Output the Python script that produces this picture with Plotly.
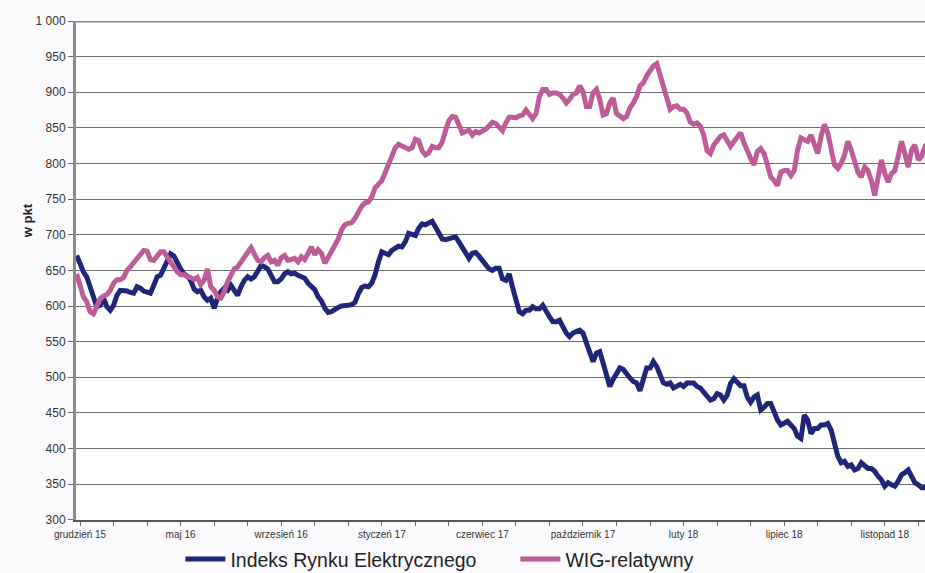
import plotly.graph_objects as go

# --- data (sampled every 3 sessions, first sample = session -3) ---
first_session = -3
sample_step = 3

indeks_rynku_elektrycznego = [
    671, 659, 648, 641, 627, 608, 599, 601, 611, 599, 594, 601, 615, 622, 622, 621, 619, 618,
    627, 625, 621, 619, 618, 629, 641, 643, 652, 662, 673, 670, 660, 652, 645, 642, 636, 624,
    620, 622, 613, 608, 611, 597, 611, 620, 625, 622, 629, 622, 615, 627, 636, 641, 638, 641,
    648, 657, 655, 652, 643, 634, 634, 638, 645, 648, 645, 646, 643, 640, 639, 632, 627, 623,
    613, 607, 597, 591, 592, 596, 598, 600, 600, 601, 602, 605, 617, 626, 628, 627, 632, 644,
    662, 676, 674, 672, 678, 681, 684, 683, 690, 702, 700, 699, 709, 715, 714, 716, 719, 711,
    702, 694, 693, 694, 695, 697, 690, 682, 672, 667, 674, 675, 670, 663, 659, 652, 650, 653,
    653, 638, 636, 645, 626, 606, 592, 589, 594, 594, 599, 596, 596, 601, 592, 585, 578, 578,
    580, 571, 562, 557, 562, 564, 566, 562, 548, 531, 522, 534, 536, 520, 501, 487, 497, 506,
    513, 511, 504, 499, 494, 492, 481, 497, 513, 513, 522, 515, 501, 492, 490, 492, 485, 487,
    490, 487, 492, 492, 492, 487, 485, 479, 472, 468, 470, 477, 475, 468, 475, 491, 498, 493,
    488, 488, 472, 465, 472, 475, 454, 458, 463, 463, 449, 440, 433, 435, 438, 433, 428, 417,
    414, 447, 440, 421, 428, 428, 433, 433, 435, 426, 408, 389, 380, 382, 375, 377, 370, 372,
    380, 377, 372, 372, 368, 361, 356, 347, 352, 349, 347, 354, 363, 366, 370, 361, 352, 349,
    345, 345, 352, 356,
]

wig_relatywny = [
    645, 627, 613, 606, 592, 589, 599, 610, 614, 616, 622, 632, 637, 637, 640, 650, 655, 661,
    666, 671, 678, 677, 665, 664, 671, 676, 676, 669, 660, 652, 648, 644, 644, 641, 640, 637,
    640, 630, 636, 652, 627, 622, 613, 611, 620, 634, 643, 652, 655, 662, 666, 675, 682, 673,
    664, 662, 668, 671, 662, 664, 657, 668, 671, 664, 665, 667, 662, 669, 665, 674, 683, 672,
    679, 674, 660, 668, 676, 683, 694, 707, 714, 716, 717, 723, 732, 740, 745, 746, 753, 766,
    771, 776, 787, 800, 813, 822, 827, 824, 821, 820, 822, 834, 832, 818, 812, 815, 824, 822,
    822, 830, 846, 860, 866, 865, 854, 843, 845, 847, 840, 845, 843, 845, 848, 853, 858, 856,
    850, 846, 857, 865, 865, 864, 867, 868, 875, 868, 863, 870, 894, 904, 904, 897, 899, 899,
    897, 892, 885, 890, 897, 899, 909, 901, 880, 880, 899, 904, 890, 868, 870, 885, 892, 870,
    866, 863, 866, 878, 885, 894, 909, 913, 923, 930, 937, 940, 925, 910, 890, 876, 880, 881,
    876, 876, 871, 858, 855, 857, 852, 840, 818, 814, 826, 833, 838, 840, 831, 824, 831, 836,
    843, 829, 817, 807, 798, 817, 821, 814, 798, 781, 776, 769, 788, 790, 790, 783, 790, 819,
    836, 833, 831, 840, 824, 814, 838, 855, 843, 824, 798, 793, 800, 812, 831, 819, 805, 788,
    781, 795, 790, 776, 755, 781, 805, 786, 774, 786, 790, 810, 831, 814, 795, 819, 826, 805,
    810, 824, 829, 836,
]

x_tick_labels = ["grudzień 15", "maj 16", "wrzesień 16", "styczeń 17", "czerwiec 17",
                 "październik 17", "luty 18", "lipiec 18", "listopad 18"]
y_tick_values = [300, 350, 400, 450, 500, 550, 600, 650, 700, 750, 800, 850, 900, 950, 1000]
y_tick_labels = ["300", "350", "400", "450", "500", "550", "600", "650", "700", "750",
                 "800", "850", "900", "950", "1 000"]

series_names = ["Indeks Rynku Elektrycznego", "WIG-relatywny"]

# sessions for each sample
sessions_blue = [first_session + sample_step * i for i in range(len(indeks_rynku_elektrycznego))]
sessions_pink = [first_session + sample_step * i for i in range(len(wig_relatywny))]

# tick positions: minor tick every 30 sessions, label every 90 sessions
tickvals = []
ticktext = []
for j in range(len(x_tick_labels) * 3):
    tickvals.append(30 * j)
    ticktext.append(x_tick_labels[j // 3] if j % 3 == 0 else "")

FONT = "Liberation Sans, Arial, sans-serif"
BLUE = "#1f2577"
PINK = "#bd5c98"

fig = go.Figure()
fig.add_trace(go.Scatter(x=sessions_blue, y=indeks_rynku_elektrycznego, mode="lines",
                         name=series_names[0], line=dict(color=BLUE, width=5)))
fig.add_trace(go.Scatter(x=sessions_pink, y=wig_relatywny, mode="lines",
                         name=series_names[1], line=dict(color=PINK, width=5)))

fig.update_layout(
    width=925, height=573,
    margin=dict(l=76, r=0, t=21, b=51),
    paper_bgcolor="#fbfbfd",
    plot_bgcolor="#ffffff",
    font=dict(family=FONT, color="#333333"),
    showlegend=True,
    legend=dict(orientation="h", xref="container", yref="container",
                x=0.195, xanchor="left", y=0.024, yanchor="middle",
                font=dict(size=19.5, color="#222222"), entrywidth=280, entrywidthmode="pixels",
                bgcolor="rgba(0,0,0,0)", itemwidth=40),
    xaxis=dict(range=[-3.6, 756], showgrid=False, zeroline=False,
               tickmode="array", tickvals=tickvals, ticktext=ticktext,
               ticks="outside", ticklen=4, tickcolor="#666666", tickwidth=1,
               tickfont=dict(size=10, color="#333333"),
               showline=True, linecolor="#555555", linewidth=2),
    yaxis=dict(range=[300, 1000], tickmode="array", tickvals=y_tick_values, ticktext=y_tick_labels,
               showgrid=True, gridcolor="#6e6e6e", gridwidth=1, zeroline=False,
               ticks="outside", ticklen=5, tickcolor="#666666",
               tickfont=dict(size=12, color="#333333"),
               showline=True, linecolor="#8a8a8a", linewidth=3, mirror=False),
    annotations=[dict(text="<b>w pkt</b>", x=-0.068, y=0.60, xref="paper", yref="paper",
                      textangle=-90, showarrow=False, font=dict(size=13, color="#222222"))],
    shapes=[dict(type="line", xref="paper", yref="y", x0=0, x1=1, y0=1000, y1=1000,
                 line=dict(color="#8a8a8a", width=3))],
)

fig.write_html("out.html")
